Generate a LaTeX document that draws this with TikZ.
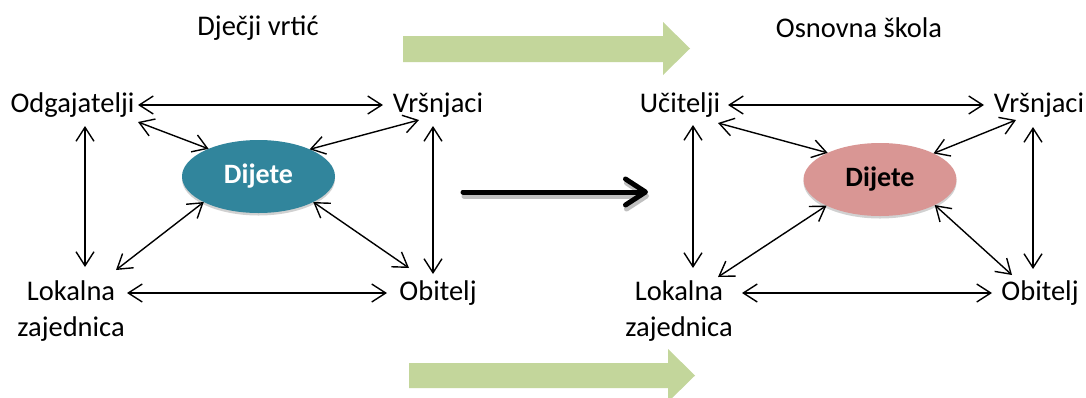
\documentclass[tikz,border=0pt]{standalone}
\usepackage{fontspec}
\setmainfont{Carlito}
\usetikzlibrary{arrows.meta,calc,shadows,shapes.geometric}
\definecolor{teal1}{HTML}{31859C}
\definecolor{pink1}{HTML}{D99694}
\definecolor{green1}{HTML}{C3D69B}
\begin{document}
\begin{tikzpicture}[x=1pt,y=-1pt,
  lbl/.style={inner sep=0pt,outer sep=0pt,font=\fontsize{28.5}{36}\selectfont,align=center},
  child/.style={ellipse,minimum width=153pt,minimum height=73pt,inner sep=0pt,outer sep=0pt,
    font=\fontsize{28}{34}\selectfont\bfseries,
    drop shadow={shadow xshift=0pt,shadow yshift=-2.5pt,opacity=0.18,fill=black}},
  rel/.style={line width=1.4pt,{Straight Barb[length=14pt,width=18pt]}-{Straight Barb[length=14pt,width=18pt]}},
  bigarrow/.style={fill=green1,draw=none}
]
\useasboundingbox (0,0) rectangle (1086,397);
\clip (0,0) rectangle (1086,397);
\fill[white] (0,0) rectangle (1086,397);

% green arrows
\path[bigarrow] (403,36) -- (663,36) -- (663,22) -- (690,48.5) -- (663,75) -- (663,62) -- (403,62) -- cycle;
\path[bigarrow] (409,363) -- (668,363) -- (668,349) -- (695,375.5) -- (668,402) -- (668,388) -- (409,388) -- cycle;

% titles
\node[lbl] (t1) at (258,28) {Dječji vrtić};
\node[lbl] (t2) at (859,28) {Osnovna škola};

% left diagram
\node[lbl] (odg) at (72.5,105) {Odgajatelji};
\node[lbl] (vrs1) at (438,105) {Vršnjaci};
\node[lbl] (lok1) at (71,311) {Lokalna\\zajednica};
\node[lbl] (obi1) at (438,293) {Obitelj};
\node[child,fill=teal1,text=white] (dij1) at (258.5,176.5) {Dijete};

\draw[rel] ($(odg)+(65.5,0)$) -- ($(vrs1)+(-55,0)$);
\draw[rel] ($(lok1)+(56,-18)$) -- ($(obi1)+(-51,0)$);
\draw[rel] ($(odg)+(12.5,21)$) -- ($(lok1)+(14,-44)$);
\draw[rel] ($(vrs1)+(-5,21)$) -- ($(obi1)+(-5,-19)$);
\draw[rel] ($(odg)+(65.5,17)$) -- (dij1.151);
\draw[rel] ($(vrs1)+(-19,15)$) -- (dij1.28);
\draw[rel] ($(lok1)+(45,-41)$) -- (dij1.205);
\draw[rel] ($(obi1)+(-29,-25)$) -- (dij1.335);

% right diagram
\node[lbl] (uci) at (680,105) {Učitelji};
\node[lbl] (vrs2) at (1039,105) {Vršnjaci};
\node[lbl] (lok2) at (679,311) {Lokalna\\zajednica};
\node[lbl] (obi2) at (1040,293) {Obitelj};
\node[child,fill=pink1,text=black] (dij2) at (880,179.5) {Dijete};

\draw[rel] ($(uci)+(48,0)$) -- ($(vrs2)+(-55,0)$);
\draw[rel] ($(lok2)+(63,-18)$) -- ($(obi2)+(-48,0)$);
\draw[rel] ($(uci)+(13,20)$) -- ($(lok2)+(14,-43)$);
\draw[rel] ($(vrs2)+(-6,22)$) -- ($(obi2)+(-7,-24)$);
\draw[rel] ($(uci)+(38,18)$) -- (dij2.153);
\draw[rel] ($(vrs2)+(-23,15)$) -- (dij2.26);
\draw[rel] ($(lok2)+(39,-34)$) -- (dij2.206);
\draw[rel] ($(obi2)+(-28,-18)$) -- (dij2.335);

% black transition arrow
\coordinate (ba1) at (463,192);
\coordinate (ba2) at (648,192);
\draw[line width=5pt,black!25,line cap=round,line join=round,-{Straight Barb[length=20pt,width=26pt,line cap=round,line join=round]}] ($(ba1)+(1,4)$) -- ($(ba2)+(1,4)$);
\draw[line width=5pt,line cap=round,line join=round,-{Straight Barb[length=20pt,width=26pt,line cap=round,line join=round]}] (ba1) -- (ba2);
\end{tikzpicture}
\end{document}
